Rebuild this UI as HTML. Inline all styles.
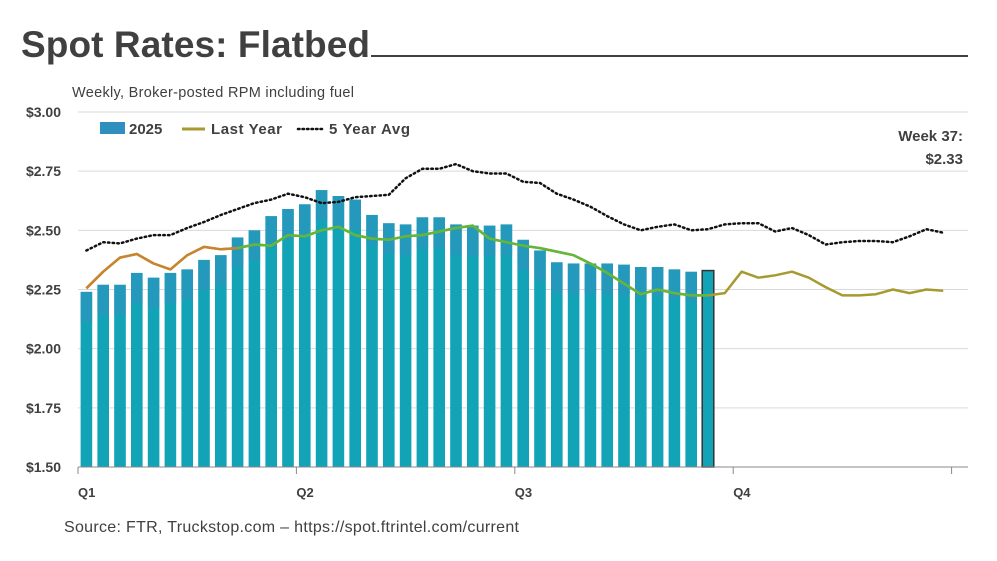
<!DOCTYPE html>
<html><head><meta charset="utf-8">
<style>
body{margin:0;background:#fff;}
svg{display:block;font-family:"Liberation Sans",sans-serif;}
</style></head>
<body>
<svg id="chart" width="997" height="561" viewBox="0 0 997 561">
<text x="21" y="57" font-size="37" font-weight="bold" fill="#404040" textLength="349">Spot Rates: Flatbed</text>
<line x1="371" y1="56" x2="968" y2="56" stroke="#404040" stroke-width="2"/>
<text x="72" y="97" font-size="14.5" fill="#404040" textLength="282">Weekly, Broker-posted RPM including fuel</text>
<g id="grid"></g>
<g id="yaxis"></g>
<g id="bars"></g>
<g id="lines"></g>
<g id="xaxis"></g>
<g>
<g><rect x="100" y="122" width="25" height="12" fill="#2f8fbf"/><text x="129" y="134" font-size="15" font-weight="bold" fill="#404040">2025</text></g>
<g><line x1="182" y1="129" x2="205" y2="129" stroke="#a89a30" stroke-width="3"/><text x="211" y="134" font-size="15" font-weight="bold" fill="#404040" textLength="71">Last Year</text></g>
<g><line x1="298" y1="129" x2="323" y2="129" stroke="#111" stroke-width="2.5" stroke-dasharray="1.5 3" stroke-linecap="round"/><text x="329" y="134" font-size="15" font-weight="bold" fill="#404040" textLength="81">5 Year Avg</text></g>
</g>
<text x="963" y="141" font-size="15" font-weight="bold" fill="#404040" text-anchor="end">Week 37:</text>
<text x="963" y="164" font-size="15" font-weight="bold" fill="#404040" text-anchor="end">$2.33</text>
<text x="64" y="532" font-size="16" fill="#404040" textLength="455">Source: FTR, Truckstop.com – https://spot.ftrintel.com/current</text>
</svg>
<script>
const bars2025=[2.24,2.27,2.27,2.32,2.30,2.32,2.335,2.375,2.395,2.47,2.50,2.56,2.59,2.61,2.67,2.645,2.63,2.565,2.53,2.525,2.555,2.555,2.525,2.52,2.52,2.525,2.46,2.415,2.365,2.36,2.36,2.36,2.355,2.345,2.345,2.335,2.325,2.33];
const lastYear=[2.255,2.325,2.385,2.40,2.36,2.335,2.395,2.43,2.42,2.425,2.44,2.435,2.48,2.475,2.50,2.515,2.48,2.465,2.46,2.475,2.48,2.495,2.51,2.52,2.465,2.45,2.435,2.425,2.41,2.395,2.36,2.32,2.275,2.23,2.25,2.235,2.225,2.225,2.235,2.325,2.30,2.31,2.325,2.30,2.26,2.225,2.225,2.23,2.25,2.235,2.25,2.245];
const fiveYear=[2.415,2.45,2.445,2.465,2.48,2.48,2.51,2.535,2.565,2.59,2.615,2.63,2.655,2.64,2.615,2.62,2.64,2.645,2.65,2.72,2.76,2.76,2.78,2.75,2.74,2.74,2.705,2.70,2.655,2.63,2.60,2.56,2.525,2.50,2.515,2.525,2.50,2.505,2.525,2.53,2.53,2.495,2.51,2.48,2.44,2.45,2.455,2.455,2.45,2.475,2.505,2.49];
const yTicks=[1.50,1.75,2.00,2.25,2.50,2.75,3.00];
const quarterLabels=["Q1","Q2","Q3","Q4"];
const NS="http://www.w3.org/2000/svg";
const X0=78,BAND=16.8,NWEEKS=52,YMIN=1.5,YMAX=3.0,YB=467,YT=112;
const xC=i=>X0+BAND*(i+0.5);
const y=v=>YB-(v-YMIN)/(YMAX-YMIN)*(YB-YT);
function mk(tag,attrs,parent){const e=document.createElementNS(NS,tag);for(const k in attrs)e.setAttribute(k,attrs[k]);parent.appendChild(e);return e;}
const grid=document.getElementById('grid'),ya=document.getElementById('yaxis');
yTicks.forEach(v=>{
 if(v>YMIN){const l=mk('line',{x1:X0,x2:968,y1:y(v),y2:y(v),stroke:'#d9d9d9','stroke-width':1},grid);
 
 }
 const t=mk('text',{x:61,y:y(v)+5,'text-anchor':'end','font-size':14,'font-weight':'bold',fill:'#404040'},ya);
 t.textContent='$'+v.toFixed(2);
 
 
});
const bg=document.getElementById('bars');
bars2025.forEach((v,i)=>{
 const last=i===bars2025.length-1;
 const r=mk('rect',{x:xC(i)-5.8,y:y(v),width:11.6,height:YB-y(v),fill:'#12a3b6'},bg);
 if(last){r.setAttribute('stroke','#333');r.setAttribute('stroke-width','1.5');}
 
 
 const cap=mk('rect',{x:xC(i)-5.8,y:y(v),width:11.6,height:Math.min(30,YB-y(v)),fill:'#3592bf',opacity:last?0:0.55},bg);
 
 
});
const lg=document.getElementById('lines');
const pts=(arr,a,b)=>arr.slice(a,b).map((v,j)=>xC(a+j).toFixed(1)+','+y(v).toFixed(1)).join(' ');
const p1=mk('polyline',{points:pts(lastYear,0,lastYear.length),fill:'none',stroke:'#a89a30','stroke-width':2.5,'stroke-linejoin':'round'},lg);


const p1b=mk('polyline',{points:pts(lastYear,0,10),fill:'none',stroke:'#c8842e','stroke-width':2.5,'stroke-linejoin':'round'},lg);


const p1g=mk('polyline',{points:pts(lastYear,9,38),fill:'none',stroke:'#62b73a','stroke-width':2.5,'stroke-linejoin':'round'},lg);


const p2=mk('polyline',{points:pts(fiveYear,0,fiveYear.length),fill:'none',stroke:'#111','stroke-width':2.5,'stroke-dasharray':'1.5 3.2','stroke-linecap':'round'},lg);


const xa=document.getElementById('xaxis');
const ax=mk('line',{x1:X0,x2:968,y1:YB,y2:YB,stroke:'#888','stroke-width':1},xa);


for(let q=0;q<=4;q++){
 const xx=X0+q*13*BAND;
 const tk=mk('line',{x1:xx,x2:xx,y1:YB,y2:YB+7,stroke:'#888'},xa);
 
 
 if(q<4){const t=mk('text',{x:xx,y:497,'font-size':13,'font-weight':'bold',fill:'#404040'},xa);
 t.textContent=quarterLabels[q];
 
 }
}
</script>
</body></html>
